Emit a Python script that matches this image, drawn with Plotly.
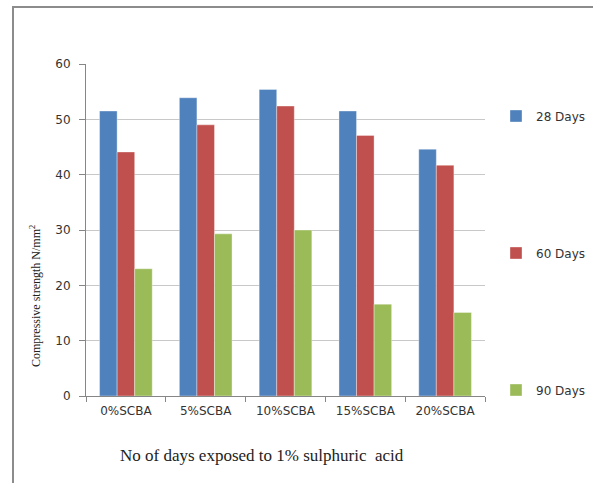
import plotly.graph_objects as go

# Compressive strength after exposure to 1% sulphuric acid
categories = ["0%SCBA", "5%SCBA", "10%SCBA", "15%SCBA", "20%SCBA"]
days_28 = [51.5, 53.9, 55.4, 51.5, 44.6]
days_60 = [44.1, 49.0, 52.4, 47.1, 41.7]
days_90 = [23.0, 29.3, 30.0, 16.6, 15.1]
series_names = ["28 Days", "60 Days", "90 Days"]
y_ticks = [0, 10, 20, 30, 40, 50, 60]

colors = ["#4F81BD", "#C0504D", "#9BBB59"]
W, H = 593, 483
L, R, T, B = 86, 108, 64, 87
pw, ph = W - L - R, H - T - B


def px_x(x):
    return (x - L) / pw


def px_y(y):
    return (H - B - y) / ph


fig = go.Figure()
legend_ids = ["legend", "legend2", "legend3"]
for name, vals, col, lg in zip(series_names, [days_28, days_60, days_90], colors, legend_ids):
    fig.add_trace(go.Bar(
        x=categories, y=vals, name=name, legend=lg,
        marker=dict(color=col, line=dict(color="rgba(255,255,255,0.6)", width=0.6)),
    ))

legend_font = dict(family="DejaVu Sans", size=12, color="#333333")
legend_y = [116, 253, 390]
legend_cfg = {}
for lg, yy in zip(legend_ids, legend_y):
    legend_cfg[lg] = dict(x=px_x(496), xanchor="left", y=px_y(yy), yanchor="middle",
                          font=legend_font, bgcolor="rgba(0,0,0,0)",
                          itemwidth=30, tracegroupgap=0)

tick_font = dict(family="DejaVu Sans", size=12, color="#333333")
fig.update_layout(
    width=W, height=H,
    margin=dict(l=L, r=R, t=T, b=B, autoexpand=False),
    paper_bgcolor="white", plot_bgcolor="white",
    barmode="group", bargap=0.34, bargroupgap=0,
    showlegend=True,
    xaxis=dict(
        showline=True, linecolor="#868686", linewidth=1,
        ticks="outside", ticklen=5, tickcolor="#868686", tickson="boundaries",
        tickfont=tick_font, showgrid=False, ticklabelstandoff=4,
    ),
    yaxis=dict(
        range=[0, 60], tickvals=y_ticks,
        showline=True, linecolor="#868686", linewidth=1,
        ticks="outside", ticklen=6, tickcolor="#868686",
        tickfont=tick_font,
        showgrid=True, gridcolor="#C8C8C8", gridwidth=1,
        zeroline=False, ticklabelstandoff=6,
    ),
    **legend_cfg,
)

# outer chart frame
fig.add_shape(type="path", xref="paper", yref="paper",
              path=f"M {px_x(13)},{px_y(490)} L {px_x(13)},{px_y(7)} L {px_x(600)},{px_y(7)}",
              line=dict(color="#8C8C8C", width=2))

fig.add_annotation(
    text="Compressive strength N/mm<sup>2</sup>", xref="paper", yref="paper",
    x=px_x(35), y=px_y(296), textangle=-90, showarrow=False,
    font=dict(family="Liberation Serif", size=12, color="#222222"),
    xanchor="center", yanchor="middle",
)
fig.add_annotation(
    text="No of days exposed to 1% sulphuric  acid", xref="paper", yref="paper",
    x=px_x(262), y=px_y(455), showarrow=False,
    font=dict(family="Liberation Serif", size=17, color="#222222"),
    xanchor="center", yanchor="middle",
)

fig.write_html("out.html")
